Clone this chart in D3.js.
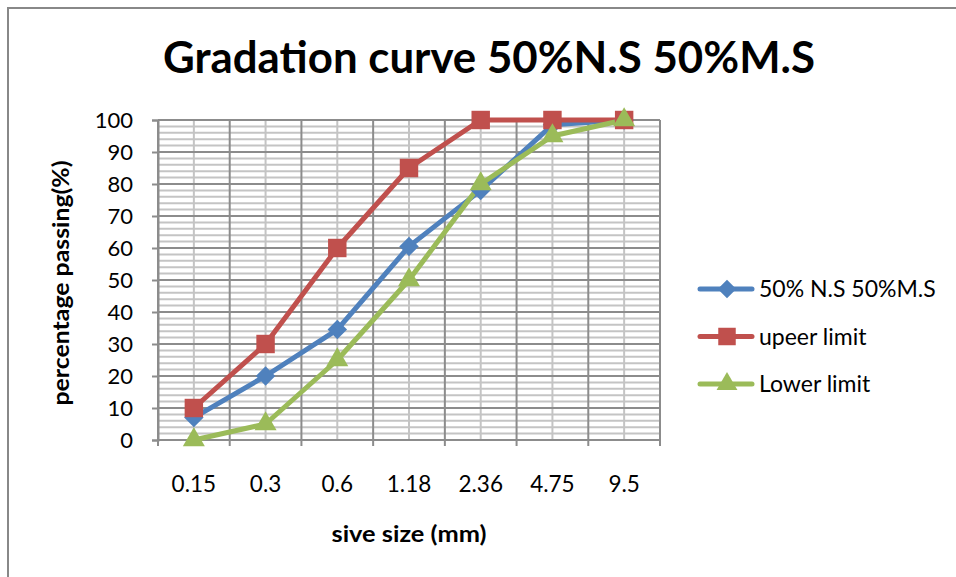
<!DOCTYPE html>
<html>
<head>
<meta charset="utf-8">
<script src="https://cdn.jsdelivr.net/npm/d3@7"></script>
<style>
  body { margin: 0; background: #fff; }
  text { font-family: Lato, "Open Sans", sans-serif; fill: #000; }
</style>
</head>
<body>
<div id="chart"></div>
<script>
var sieveSizes = ["0.15", "0.3", "0.6", "1.18", "2.36", "4.75", "9.5"];
var mixValues = [7, 20, 34.5, 60.5, 78, 98.5, 100];
var upperValues = [10, 30, 60, 85, 100, 100, 100];
var lowerValues = [0, 5, 25, 50, 80, 95, 100];
var yTicks = [0, 10, 20, 30, 40, 50, 60, 70, 80, 90, 100];

// square diamond (equal diagonals), like the spreadsheet marker
var diamond = {
  draw: function(ctx, size) {
    var r = Math.sqrt(size / 2);
    ctx.moveTo(0, -r); ctx.lineTo(r, 0); ctx.lineTo(0, r); ctx.lineTo(-r, 0); ctx.closePath();
  }
};

var series = [
  { name: "50% N.S 50%M.S", values: mixValues, color: "#4F81BD", shape: diamond, size: 190 },
  { name: "upeer limit", values: upperValues, color: "#C0504D", shape: d3.symbolSquare, size: 340 },
  { name: "Lower limit", values: lowerValues, color: "#9BBB59", shape: d3.symbolTriangle, size: 210 }
];

var svgWidth = 956, svgHeight = 577;
var margin = { top: 120, left: 158, right: 296, bottom: 137 };
var width = svgWidth - margin.left - margin.right;
var height = svgHeight - margin.top - margin.bottom;

var svg = d3.select("#chart").append("svg")
  .attr("width", svgWidth)
  .attr("height", svgHeight);

// outer frame
svg.append("rect")
  .attr("x", 8).attr("y", 8)
  .attr("width", 960).attr("height", 600)
  .attr("fill", "none").attr("stroke", "#888").attr("stroke-width", 2);

svg.append("text")
  .attr("x", 489).attr("y", 73)
  .attr("text-anchor", "middle")
  .attr("font-size", 43).attr("font-weight", "bold")
  .attr("textLength", 652).attr("lengthAdjust", "spacingAndGlyphs")
  .text("Gradation curve 50%N.S 50%M.S");

var g = svg.append("g").attr("transform", `translate(${margin.left},${margin.top})`);

var x = d3.scaleBand().domain(sieveSizes).range([0, width]).padding(0);
var y = d3.scaleLinear().domain([0, 100]).range([height, 0]);

// minor horizontal grid (every 2)
g.append("g").selectAll("line")
  .data(d3.range(0, 101, 2).filter(v => v % 10 !== 0))
  .enter().append("line")
  .attr("x1", 0).attr("x2", width)
  .attr("y1", d => y(d)).attr("y2", d => y(d))
  .attr("stroke", "#c4c4c4").attr("stroke-width", 2);

// minor vertical grid at category centres
g.append("g").selectAll("line")
  .data(sieveSizes)
  .enter().append("line")
  .attr("x1", d => x(d) + x.bandwidth() / 2).attr("x2", d => x(d) + x.bandwidth() / 2)
  .attr("y1", 0).attr("y2", height)
  .attr("stroke", "#c4c4c4").attr("stroke-width", 2);

// major horizontal grid
g.append("g").selectAll("line")
  .data(yTicks)
  .enter().append("line")
  .attr("x1", 0).attr("x2", width)
  .attr("y1", d => y(d)).attr("y2", d => y(d))
  .attr("stroke", "#8c8c8c").attr("stroke-width", 2);

// major vertical grid at category boundaries
var bounds = sieveSizes.map(d => x(d)).concat([width]);
g.append("g").selectAll("line")
  .data(bounds)
  .enter().append("line")
  .attr("x1", d => d).attr("x2", d => d)
  .attr("y1", 0).attr("y2", height)
  .attr("stroke", "#8c8c8c").attr("stroke-width", 2);

// y axis
var yAxis = g.append("g")
  .call(d3.axisLeft(y).tickValues(yTicks).tickSize(6).tickPadding(19));
yAxis.select(".domain").attr("stroke", "#8c8c8c").attr("stroke-width", 2);
yAxis.selectAll(".tick line").attr("stroke", "#8c8c8c").attr("stroke-width", 2);
yAxis.selectAll("text").attr("font-size", 22).attr("font-family", "Lato, sans-serif");

// x axis: ticks at category boundaries, labels at centres
var xAxis = g.append("g").attr("transform", `translate(0,${height})`);
xAxis.selectAll("line")
  .data(bounds)
  .enter().append("line")
  .attr("x1", d => d).attr("x2", d => d)
  .attr("y1", 0).attr("y2", 6)
  .attr("stroke", "#8c8c8c").attr("stroke-width", 2);
xAxis.selectAll("text")
  .data(sieveSizes)
  .enter().append("text")
  .attr("x", d => x(d) + x.bandwidth() / 2)
  .attr("y", 52)
  .attr("text-anchor", "middle")
  .attr("font-size", 22.5)
  .text(d => d);

svg.append("text")
  .attr("x", 409).attr("y", 542)
  .attr("text-anchor", "middle")
  .attr("font-size", 22).attr("font-weight", "bold")
  .attr("textLength", 155).attr("lengthAdjust", "spacingAndGlyphs")
  .text("sive size (mm)");

svg.append("text")
  .attr("transform", "translate(69,283) rotate(-90)")
  .attr("text-anchor", "middle")
  .attr("font-size", 22).attr("font-weight", "bold")
  .attr("textLength", 245).attr("lengthAdjust", "spacingAndGlyphs")
  .text("percentage passing(%)");

var line = d3.line()
  .x((d, i) => x(sieveSizes[i]) + x.bandwidth() / 2)
  .y(d => y(d));

series.forEach(function(s) {
  g.append("path")
    .datum(s.values)
    .attr("d", line)
    .attr("fill", "none")
    .attr("stroke", s.color)
    .attr("stroke-width", 5)
    .attr("stroke-linejoin", "round");
});

series.forEach(function(s) {
  g.append("g").selectAll("path")
    .data(s.values)
    .enter().append("path")
    .attr("transform", (d, i) => `translate(${x(sieveSizes[i]) + x.bandwidth() / 2},${y(d)})`)
    .attr("d", d3.symbol().type(s.shape).size(s.size))
    .attr("fill", s.color);
});

// legend
var legend = svg.append("g").attr("transform", "translate(700,289)");
series.forEach(function(s, i) {
  var row = legend.append("g").attr("transform", `translate(0,${i * 47.5})`);
  row.append("line")
    .attr("x1", 0).attr("x2", 52)
    .attr("stroke", s.color).attr("stroke-width", 5).attr("stroke-linecap", "round");
  row.append("path")
    .attr("transform", "translate(27,0)")
    .attr("d", d3.symbol().type(s.shape).size(s.size * 0.9))
    .attr("fill", s.color);
  row.append("text")
    .attr("x", 59).attr("y", 8)
    .attr("font-size", 23)
    .text(s.name);
});
</script>
</body>
</html>
